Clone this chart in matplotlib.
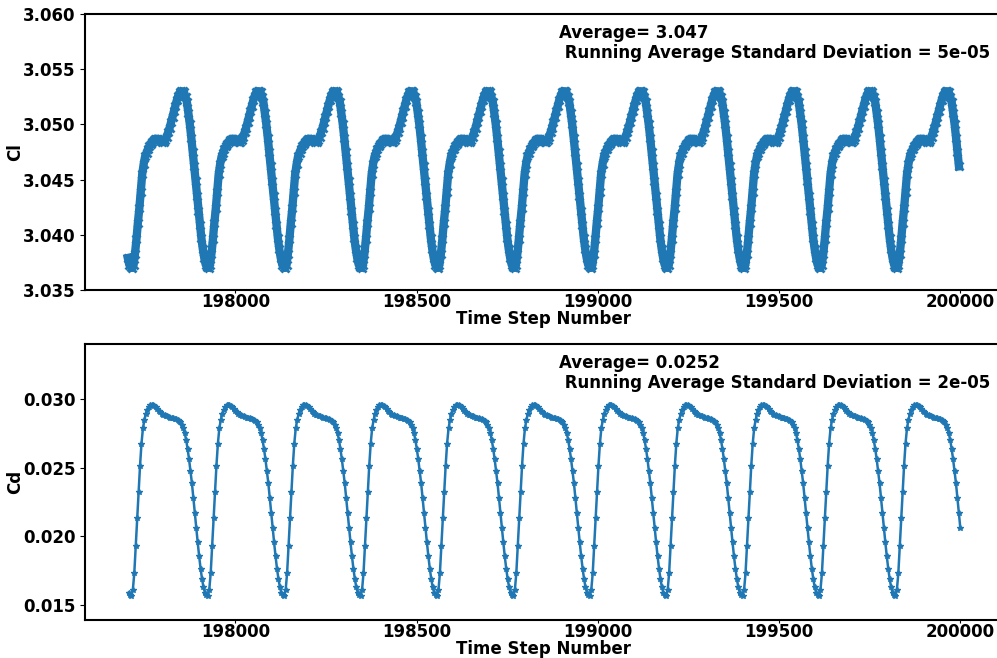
import numpy as np
from matplotlib import pyplot as plt

# one oscillation period, starting at the Cl / Cd minimum
cl_cycle = [3.0370, 3.0373, 3.0383, 3.0396, 3.0411, 3.0424, 3.0439, 3.0455, 3.0464, 3.0471,
            3.0474, 3.0478, 3.0480, 3.0482, 3.0484, 3.0486, 3.0487, 3.0487, 3.0487, 3.0486,
            3.0485, 3.0484, 3.0484, 3.0486, 3.0489, 3.0493, 3.0497, 3.0502, 3.0507, 3.0512,
            3.0517, 3.0522, 3.0526, 3.0529, 3.0530, 3.0530, 3.0529, 3.0525, 3.0520, 3.0510,
            3.0500, 3.0488, 3.0475, 3.0462, 3.0449, 3.0435, 3.0422, 3.0409, 3.0397, 3.0387,
            3.0379, 3.0373, 3.0371]
cd_cycle = [0.01567, 0.01610, 0.01730, 0.01930, 0.02135, 0.02325, 0.02515, 0.02675, 0.02785, 0.02845,
            0.02890, 0.02920, 0.02940, 0.02952, 0.02956, 0.02955, 0.02950, 0.02940, 0.02925, 0.02912,
            0.02902, 0.02893, 0.02886, 0.02880, 0.02876, 0.02872, 0.02868, 0.02864, 0.02861, 0.02858,
            0.02854, 0.02850, 0.02845, 0.02838, 0.02828, 0.02812, 0.02785, 0.02750, 0.02700, 0.02635,
            0.02560, 0.02475, 0.02385, 0.02280, 0.02170, 0.02060, 0.01955, 0.01855, 0.01765, 0.01690,
            0.01630, 0.01590, 0.01570]

cl_first_min, cl_period = 197715, 211.0
cd_first_min, cd_period = 197713, 210.8
n_cycles = 12
step_start, step_end = 197703, 200000

cl_avg, cl_std = 3.047, 5e-05
cd_avg, cd_std = 0.0252, 2e-05

cl_ticks = [3.035, 3.040, 3.045, 3.050, 3.055, 3.060]
cd_ticks = [0.015, 0.020, 0.025, 0.030]


def repeat_cycle(cycle, first_min, period):
    n = len(cycle)
    steps = first_min - period + np.arange(n * n_cycles) * period / n
    vals = np.tile(cycle, n_cycles)
    keep = (steps >= step_start) & (steps <= step_end)
    return steps[keep], vals[keep]


cl_steps, cl = repeat_cycle(cl_cycle, cl_first_min, cl_period)
cd_steps, cd = repeat_cycle(cd_cycle, cd_first_min, cd_period)

plt.rcParams['font.weight'] = 'bold'
plt.rcParams['axes.labelweight'] = 'bold'
plt.rcParams['font.size'] = 12

fig = plt.figure(figsize=(9.97, 6.58), dpi=100)
W, H = 997, 658
ax1 = fig.add_axes([85 / W, 1 - 290 / H, 917 / W, 276 / H])
ax2 = fig.add_axes([85 / W, 1 - 620 / H, 917 / W, 276 / H])

ax1.plot(cl_steps, cl, color='#1f77b4', linewidth=6, marker='x', markersize=6, markeredgewidth=2)
ax2.plot(cd_steps, cd, color='#1f77b4', linewidth=1.8, marker='*', markersize=4)

ax1.set_ylim(3.035, 3.060)
ax1.set_yticks(cl_ticks)
ax2.set_ylim(0.01391, 0.03399)
ax2.set_yticks(cd_ticks)

for ax, name, avg, std in [(ax1, 'Cl', cl_avg, cl_std), (ax2, 'Cd', cd_avg, cd_std)]:
    ax.set_xlim(197585, 200115)
    ax.set_xticks([198000, 198500, 199000, 199500, 200000])
    ax.tick_params(axis='x', pad=0, length=2.5)
    ax.set_xlabel('Time Step Number', fontsize=12, labelpad=-1)
    ax.set_ylabel(name, fontsize=12)
    ax.yaxis.set_label_coords(-0.066, 0.5)
    for s in ax.spines.values():
        s.set_linewidth(1.5)
    ax.text(0.517, 0.965, f'Average= {avg}\n Running Average Standard Deviation = {std}',
            transform=ax.transAxes, va='top', ha='left', fontsize=12, fontweight='bold')

fig.savefig('out.png', dpi=100)
